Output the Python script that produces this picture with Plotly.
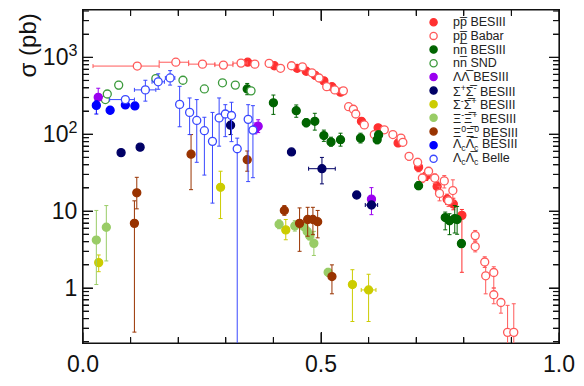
import math
import plotly.graph_objects as go

# ---------------- data ----------------
# p pbar BESIII
pp_bes_x = [0.346, 0.402, 0.450, 0.469, 0.488, 0.506, 0.523, 0.541, 0.585, 0.620, 0.622, 0.662,
            0.705, 0.721, 0.744, 0.765, 0.778, 0.796]
pp_bes_y = [863, 776, 719, 659, 581, 494, 415, 352, 147, 121, 114, 76.9, 37.3, 28.8, 20.9, 14.3, 12.4, 8.81]
pp_bes_lo = [830, 745, 690, 632, 556, 472, 396, 335, 136, 112, 105, 69, 32.5, 25, 18, 12.2, 10.4, 1.6]
pp_bes_hi = [896, 807, 748, 686, 606, 516, 434, 369, 159, 130, 123, 85, 42.5, 33, 24, 16.6, 14.7, 10.5]

# p pbar Babar
pp_bab_x = [0.114, 0.195, 0.251, 0.295, 0.332, 0.361, 0.391, 0.415, 0.438, 0.461, 0.481, 0.496, 0.512,
            0.529, 0.547, 0.558, 0.568, 0.573, 0.591, 0.612, 0.633, 0.651, 0.668, 0.672, 0.685, 0.703,
            0.713, 0.726, 0.739, 0.749, 0.759, 0.768, 0.777, 0.824, 0.824, 0.844, 0.846, 0.863, 0.863,
            0.878, 0.892, 0.905]
pp_bab_xlo = [0.021, 0.160, 0.222, 0.277, 0.315]
pp_bab_xhi = [0.160, 0.222, 0.277, 0.315, 0.345]
pp_bab_y = [769, 863, 815, 792, 840, 815, 833, 719, 776, 752, 628, 538, 415, 376, 366,
            228, 211, 183, 132, 98.9, 114, 98.9, 88.9, 78.5,
            51.6, 43.1, 26.9, 33.0, 26.9, 17.0, 24.7, 13.6, 18.5,
            4.80, 3.46, 2.18, 1.44, 1.59, 0.817, 0.648, 0.265, 0.265]
pp_bab_lo = [740, 830, 785, 762, 808, 785, 802, 692, 747, 724, 604, 518, 399, 362, 352,
             210, 194, 168, 121, 90, 104, 90, 80, 71,
             46, 38, 23.5, 29, 23, 13.6, 20, 11.5, 13.5,
             4.1, 2.95, 1.85, 0.84, 1.0, 0.624, 0.471, 0.1, 0.1]
pp_bab_hi = [800, 897, 847, 823, 873, 847, 866, 747, 807, 782, 653, 559, 431, 391, 381,
             246, 228, 198, 143, 108, 124, 108, 98, 86,
             57.5, 48.5, 30.5, 37, 30.5, 21, 29, 15.5, 25.5,
             5.6, 4.0, 2.55, 2.0, 1.89, 1.0, 0.728, 0.595, 0.624]

# n nbar BESIII
nn_bes_x = [0.345, 0.400, 0.448, 0.469, 0.487, 0.506, 0.521, 0.541, 0.583, 0.618, 0.621, 0.705,
            0.761, 0.770, 0.781, 0.786, 0.795]
nn_bes_y = [388, 256, 202, 141, 147, 96.0, 79.1, 84.8, 88.9, 84.8, 98.0, 21.4, 8.24, 7.49, 8.0, 7.78, 3.78]
nn_bes_lo = [326, 181, 166, 125, 113, 80.7, 69.9, 69.9, 76.9, 75, 87, 19.0, 5.71, 4.94, 5.19, 5.0, 3.37]
nn_bes_hi = [457, 323, 240, 158, 187, 113, 91.4, 103, 103, 96, 110, 24.2, 9.71, 9.25, 11.8, 11.5, 4.28]

# n nbar SND
nn_snd_x = [0.047, 0.051, 0.075, 0.153, 0.210, 0.255, 0.293, 0.320, 0.353]
nn_snd_y = [282, 333, 435, 528, 503, 388, 466, 435, 366]
nn_snd_lo = [268, 318, 388, 505, 482, 372, 447, 417, 351]
nn_snd_hi = [296, 348, 487, 552, 525, 405, 486, 454, 382]

# Lambda Lambdabar BESIII
ll_x = [0.032, 0.362, 0.368, 0.606]
ll_y = [302, 117, 127, 14.3]
ll_lo = [235, 101, 105, 8.99]
ll_hi = [396, 140, 154, 20.2]

# Sigma+ Sigmabar- BESIII
spm_x = [0.080, 0.120, 0.310, 0.438, 0.502, 0.575, 0.606]
spm_xerr = [0, 0, 0, 0, 0.028, 0, 0.013]
spm_y = [57.6, 67.9, 131, 58.8, 35.6, 16.2, 12.0]
spm_lo = [54, 64, 98.9, 55.5, 22.6, 15.2, 10.8]
spm_hi = [61, 72, 166, 62.3, 49.9, 17.2, 13.3]

# Sigma- Sigmabar+ BESIII
smp_x = [0.033, 0.289, 0.426, 0.566, 0.600]
smp_xerr = [0, 0, 0, 0, 0.0155]
smp_y = [2.14, 20.4, 5.7, 1.11, 0.944]
smp_lo = [1.63, 8.0, 4.24, 0.367, 0.367]
smp_hi = [2.69, 33.0, 7.78, 1.73, 1.51]

# Xi- Xibar+ BESIII
xim_x = [0.028, 0.049, 0.412, 0.445, 0.464, 0.471, 0.476, 0.485, 0.515]
xim_y = [4.20, 6.17, 6.73, 6.41, 6.30, 5.45, 4.80, 3.81, 1.60]
xim_lo = [1.11, 2.25, 5.9, 5.5, 5.6, 4.8, 4.2, 2.65, 1.42]
xim_hi = [10.2, 11.8, 7.7, 7.5, 7.1, 6.2, 5.5, 5.45, 1.80]

# Xi0 Xibar0 BESIII
xi0_x = [0.108, 0.113, 0.227, 0.345, 0.423, 0.455, 0.472, 0.483, 0.493, 0.523]
xi0_y = [6.93, 17.3, 55.0, 46.6, 10.2, 6.93, 7.78, 7.78, 7.28, 1.41]
xi0_lo = [0.267, 10.7, 19.0, 33.0, 8.81, 3.0, 4.72, 4.94, 4.49, 0.841]
xi0_hi = [13.6, 27.5, 98.9, 60.5, 11.8, 11.0, 11.2, 11.2, 10.2, 2.0]

# Lambda_c Lambdabar_c BESIII
lc_bes_x = [0.028, 0.057, 0.089, 0.109]
lc_bes_y = [237, 205, 240, 233]
lc_bes_lo = [183, 185, 216, 212]
lc_bes_hi = [272, 226, 266, 256]

# Lambda_c Lambdabar_c Belle
lc_bel_x = [0.089, 0.131, 0.158, 0.183, 0.203, 0.224, 0.239, 0.255, 0.272, 0.286, 0.299, 0.312,
            0.324, 0.347, 0.357]
lc_bel_xminus = [0.033, 0.023, 0.013, 0.010, 0, 0, 0, 0, 0, 0, 0, 0, 0, 0, 0]
lc_bel_xplus = [0.019, 0.022, 0.013, 0.010, 0, 0, 0, 0, 0, 0, 0, 0, 0, 0, 0]
lc_bel_y = [282, 377, 480, 539, 244, 192, 151, 111, 80.7, 163, 183, 175, 64.7, 156, 113]
lc_bel_lo = [265, 269, 384, 435, 125, 98.9, 43.1, 29.4, 12.7, 69.9, 93, 80, 0.1, 24.2, 27.2]
lc_bel_hi = [300, 503, 610, 671, 419, 296, 282, 166, 192, 296, 242, 260, 88.9, 242, 235]

OL = "\u0305"  # combining overline for antiparticles

series = [
    dict(name="pp" + OL + " BESIII", x=pp_bes_x, y=pp_bes_y, lo=pp_bes_lo, hi=pp_bes_hi,
         color="#ff3030", filled=True),
    dict(name="pp" + OL + " Babar", x=pp_bab_x, y=pp_bab_y, lo=pp_bab_lo, hi=pp_bab_hi,
         color="#ff5a5a", filled=False,
         xminus=[c - l for c, l in zip(pp_bab_x, pp_bab_xlo)] + [0.005] * (len(pp_bab_x) - 5),
         xplus=[h - c for c, h in zip(pp_bab_x, pp_bab_xhi)] + [0.005] * (len(pp_bab_x) - 5)),
    dict(name="nn" + OL + " BESIII", x=nn_bes_x, y=nn_bes_y, lo=nn_bes_lo, hi=nn_bes_hi,
         color="#006400", filled=True),
    dict(name="nn" + OL + " SND", x=nn_snd_x, y=nn_snd_y, lo=nn_snd_lo, hi=nn_snd_hi,
         color="#3c9a3c", filled=False),
    dict(name="ΛΛ" + OL + " BESIII", x=ll_x, y=ll_y, lo=ll_lo, hi=ll_hi,
         color="#9a00f0", filled=True),
    dict(name="Σ<sup>+</sup>Σ" + OL + "<sup>-</sup> BESIII", x=spm_x, y=spm_y, lo=spm_lo, hi=spm_hi,
         color="#000066", filled=True, xminus=spm_xerr, xplus=spm_xerr),
    dict(name="Σ<sup>-</sup>Σ" + OL + "<sup>+</sup> BESIII", x=smp_x, y=smp_y, lo=smp_lo, hi=smp_hi,
         color="#cccc00", filled=True, xminus=smp_xerr, xplus=smp_xerr),
    dict(name="Ξ<sup>-</sup>Ξ" + OL + "<sup>+</sup> BESIII", x=xim_x, y=xim_y, lo=xim_lo, hi=xim_hi,
         color="#99cc66", filled=True),
    dict(name="Ξ<sup>0</sup>Ξ" + OL + "<sup>0</sup> BESIII", x=xi0_x, y=xi0_y, lo=xi0_lo, hi=xi0_hi,
         color="#993300", filled=True),
    dict(name="Λ<sub>c</sub>Λ" + OL + "<sub>c</sub> BESIII", x=lc_bes_x, y=lc_bes_y, lo=lc_bes_lo,
         hi=lc_bes_hi, color="#0000ff", filled=True),
    dict(name="Λ<sub>c</sub>Λ" + OL + "<sub>c</sub> Belle", x=lc_bel_x, y=lc_bel_y, lo=lc_bel_lo,
         hi=lc_bel_hi, color="#3a48ff", filled=False, xminus=lc_bel_xminus, xplus=lc_bel_xplus),
]

FONT = "Liberation Sans, Arial, Helvetica, sans-serif"
AXIS_COLOR = "#111111"

# plot-area geometry in pixels
W, H = 584, 386
ML, MR, MT, MB = 83, 19, 9, 32
PW, PH = W - ML - MR, H - MT - MB

X_RANGE = [0.0, 1.0]
Y_RANGE = [-0.715, 3.615]  # log10 units

y_major = [1, 10, 100, 1000]
y_major_text = ["1", "10", "10<sup>2</sup>", "10<sup>3</sup>"]
y_minor = [m * d for d in (0.1, 1, 10, 100, 1000) for m in range(2, 10)
           if Y_RANGE[0] < math.log10(m * d) < Y_RANGE[1]]
x_major = [0.0, 0.5, 1.0]
x_major_text = ["0.0", "0.5", "1.0"]
x_minor = [0.1, 0.2, 0.3, 0.4, 0.6, 0.7, 0.8, 0.9]

fig = go.Figure()

# frame with inward ticks on all four sides (ROOT style), as one line trace
xspan = X_RANGE[1] - X_RANGE[0]
yspan = Y_RANGE[1] - Y_RANGE[0]
ybot, ytop = 10 ** Y_RANGE[0], 10 ** Y_RANGE[1]
fx = [X_RANGE[0], X_RANGE[1], X_RANGE[1], X_RANGE[0], X_RANGE[0], None]
fy = [ybot, ybot, ytop, ytop, ybot, None]
for v, px in [(v, 11) for v in x_major] + [(v, 6) for v in x_minor]:
    dl = px / PH * yspan
    fx += [v, v, None, v, v, None]
    fy += [ybot, 10 ** (Y_RANGE[0] + dl), None, ytop, 10 ** (Y_RANGE[1] - dl), None]
for v, px in [(v, 10) for v in y_major] + [(v, 6) for v in y_minor]:
    dx = px / PW * xspan
    fx += [X_RANGE[0], X_RANGE[0] + dx, None, X_RANGE[1], X_RANGE[1] - dx, None]
    fy += [v, v, None, v, v, None]
fig.add_trace(go.Scatter(x=fx, y=fy, mode="lines", line=dict(color=AXIS_COLOR, width=1.2),
                         hoverinfo="skip", showlegend=False, connectgaps=False))

for s in series:
    plus = [h - v for h, v in zip(s["hi"], s["y"])]
    minus = [v - l for l, v in zip(s["lo"], s["y"])]
    err_x = None
    if "xplus" in s:
        err_x = dict(type="data", symmetric=False, array=s["xplus"], arrayminus=s["xminus"],
                     color=s["color"], thickness=1, width=2)
    # hollow markers get a white fill so the error bars stop at the rim
    fig.add_trace(go.Scatter(
        x=s["x"], y=s["y"], mode="markers", name=s["name"], showlegend=False,
        marker=dict(symbol="circle", size=8,
                    color=s["color"] if s["filled"] else "white",
                    line=dict(width=1.3, color=s["color"])),
        error_y=dict(type="data", symmetric=False, array=plus, arrayminus=minus,
                     color=s["color"], thickness=1, width=2),
        error_x=err_x,
    ))

shapes = []
annotations = []

# hand-drawn legend (compact ROOT-style rows)
leg_marker_px = 438
leg_text_px = 456
leg_top_px = 21.7
leg_step_px = 14.15
for i, s in enumerate(series):
    py = leg_top_px + i * leg_step_px
    yp = 1 - (py - MT) / PH
    xm = (leg_marker_px - ML) / PW
    shapes.append(dict(
        type="circle", xref="paper", yref="paper", xsizemode="pixel", ysizemode="pixel",
        xanchor=xm, yanchor=yp, x0=-3.6, x1=3.6, y0=-3.6, y1=3.6,
        fillcolor=s["color"] if s["filled"] else "white",
        line=dict(color=s["color"], width=1.3),
    ))
    annotations.append(dict(
        text=s["name"], xref="paper", yref="paper", x=(leg_text_px - ML) / PW, y=yp,
        xanchor="left", yanchor="middle", showarrow=False,
        font=dict(family=FONT, size=12.5, color="#222222"),
    ))

annotations.append(dict(
    text="σ (pb)", xref="paper", yref="paper", x=(27 - ML) / PW, y=1 - (46 - MT) / PH,
    xanchor="center", yanchor="middle", textangle=-90, showarrow=False,
    font=dict(family=FONT, size=24, color="#111111"),
))

fig.update_layout(
    width=W, height=H, autosize=False,
    margin=dict(l=ML, r=MR, t=MT, b=MB),
    paper_bgcolor="white", plot_bgcolor="white",
    font=dict(family=FONT, color="#111111"),
    showlegend=False,
    shapes=shapes, annotations=annotations,
    xaxis=dict(
        range=X_RANGE, tickmode="array", tickvals=x_major, ticktext=x_major_text,
        ticks="inside", ticklen=11, tickwidth=1, tickcolor=AXIS_COLOR,
        minor=dict(tick0=0, dtick=0.1, ticks="inside", ticklen=6,
                   tickwidth=1, tickcolor=AXIS_COLOR),
        showline=True, linecolor=AXIS_COLOR, linewidth=1, mirror="ticks",
        showgrid=False, zeroline=False, tickfont=dict(size=23),
    ),
    yaxis=dict(
        type="log", range=Y_RANGE, tickmode="array", tickvals=y_major,
        ticktext=y_major_text, ticks="inside", ticklen=10, tickwidth=1, tickcolor=AXIS_COLOR,
        minor=dict(dtick="D1", ticks="inside", ticklen=6,
                   tickwidth=1, tickcolor=AXIS_COLOR),
        showline=True, linecolor=AXIS_COLOR, linewidth=1, mirror="ticks",
        showgrid=False, zeroline=False, tickfont=dict(size=23),
    ),
)

fig.write_html("out.html")
